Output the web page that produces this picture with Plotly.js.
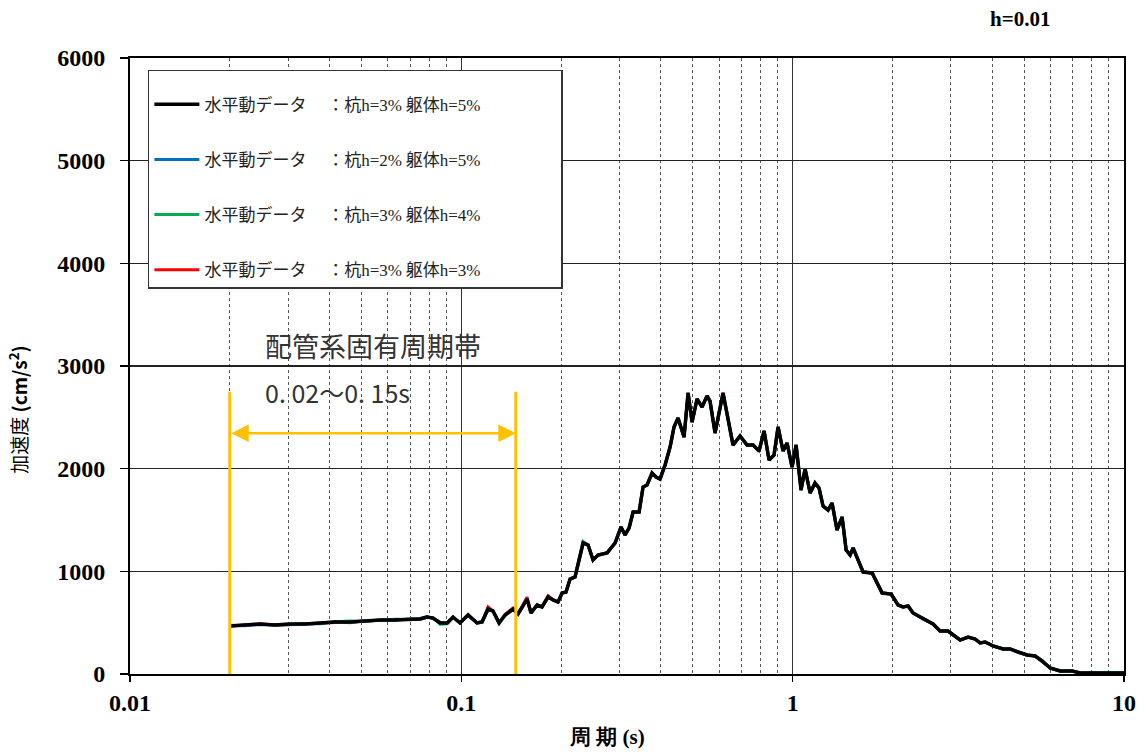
<!DOCTYPE html>
<html>
<head>
<meta charset="utf-8">
<script src="https://cdn.plot.ly/plotly-3.0.1.min.js"></script>
<style>html,body{margin:0;padding:0;background:#fff;}#chart{width:1147px;height:754px;}</style>
</head>
<body>
<div id="chart"></div>
<script>
// ---- data (period [s] vs acceleration [cm/s2]) ----
const periods = [0.020,0.0222,0.0247,0.0274,0.0304,0.0338,0.0375,0.0416,0.0461,0.0512,
0.0568,0.0631,0.0700,0.0751,0.0788,0.0822,0.0863,0.0906,0.0944,0.0991,
0.1048,0.1115,0.1155,0.1204,0.1246,0.1300,0.1355,0.1432,0.1483,0.1579,
0.1623,0.1693,0.1752,0.1827,0.1892,0.1958,0.2014,0.2070,0.2129,0.2204,
0.2331,0.2413,0.2498,0.2586,0.2754,0.2910,0.3034,0.3120,0.3208,0.3299,
0.3439,0.3536,0.3635,0.3764,0.3870,0.3979,0.4120,0.4266,0.4385,0.4509,
0.4701,0.4834,0.4970,0.5146,0.5328,0.5515,0.5631,0.5831,0.6164,0.6608,
0.6938,0.7284,0.7594,0.7917,0.8197,0.8487,0.8787,0.9034,0.9354,0.9618,
0.9959,1.024,1.060,1.090,1.129,1.168,1.201,1.235,1.279,1.315,
1.361,1.410,1.450,1.491,1.522,1.632,1.737,1.862,1.982,2.081,
2.154,2.230,2.309,2.475,2.653,2.786,2.944,3.202,3.384,3.553,
3.679,3.809,4.026,4.316,4.532,4.791,5.100,5.392,5.661,5.984,
6.414,6.972,7.371,8.474,10.0];

// 杭h=3% 躯体h=5% (black)
const accPile3Body5 = [468,477,487,477,487,487,497,506,506,516,
526,526,536,536,555,545,497,497,555,497,
575,497,506,633,614,497,575,633,584,730,
594,672,653,750,721,701,789,799,925,945,
1276,1256,1110,1159,1179,1276,1432,1354,1422,1578,
1578,1821,1841,1958,1919,1899,2036,2211,2406,2493,
2308,2737,2454,2679,2601,2708,2659,2347,2737,2230,
2318,2230,2230,2172,2367,2084,2133,2406,2172,2250,
2016,2230,1792,1997,1763,1860,1812,1636,1597,1665,
1403,1529,1208,1159,1227,993,984,789,779,672,
653,662,594,536,487,419,419,331,360,341,
302,312,273,244,244,214,185,175,127,58,
29,29,10,10,10];

// 杭h=2% 躯体h=5% (blue)
const accPile2Body5 = [476,470,482,484,480,493,490,511,500,522,
520,533,530,541,560,540,505,492,550,500,
570,500,510,628,610,500,570,628,586,728,
596,670,655,748,720,703,787,801,922,948,
1272,1258,1112,1157,1181,1272,1428,1356,1420,1575,
1580,1818,1843,1955,1921,1897,2033,2213,2403,2490,
2310,2733,2456,2676,2603,2705,2661,2350,2733,2232,
2316,2232,2228,2174,2364,2086,2131,2403,2174,2248,
2018,2228,1794,1995,1765,1858,1814,1634,1599,1663,
1405,1527,1210,1157,1229,991,986,787,781,670,
655,660,596,534,489,417,421,329,362,339,
304,310,275,242,246,212,187,173,129,56,
31,27,12,9,11];

// 杭h=3% 躯体h=4% (green)
const accPile3Body4 = [470,478,485,479,488,485,499,508,516,512,
527,524,538,534,553,547,486,490,552,499,
573,499,502,630,616,492,572,630,582,733,
592,674,651,752,719,703,787,801,923,947,
1290,1258,1108,1161,1177,1278,1430,1352,1424,1576,
1576,1823,1839,1960,1917,1901,2034,2209,2408,2491,
2306,2739,2452,2681,2599,2710,2657,2349,2735,2228,
2320,2228,2232,2170,2369,2082,2135,2404,2170,2252,
2014,2232,1790,1999,1761,1862,1810,1638,1595,1667,
1401,1531,1206,1161,1225,995,982,791,777,674,
651,664,592,538,485,421,417,333,358,343,
300,314,271,246,242,216,183,177,125,60,
27,31,9,11,9];

// 杭h=3% 躯体h=3% (red)
const accPile3Body3 = [466,476,489,476,486,489,496,505,507,515,
525,527,535,537,554,546,496,498,554,496,
578,496,508,652,612,499,578,642,586,748,
596,676,655,762,723,699,791,797,927,943,
1280,1254,1112,1157,1181,1274,1434,1352,1424,1580,
1576,1823,1839,1960,1917,1901,2038,2209,2408,2495,
2306,2741,2452,2681,2599,2710,2657,2345,2741,2228,
2320,2228,2232,2170,2369,2082,2135,2408,2170,2252,
2014,2232,1790,1999,1761,1862,1810,1638,1595,1667,
1401,1531,1206,1161,1225,995,982,791,777,674,
651,664,592,538,485,421,417,333,358,343,
300,314,271,246,242,216,183,177,125,60,
27,31,9,11,9];

const pileDamping = ['3%', '2%', '3%', '3%'];
const bodyDamping = ['5%', '5%', '4%', '3%'];
const seriesColors = ['#000000', '#0070C0', '#00B050', '#FF0000'];

const bandStart = 0.02, bandEnd = 0.15;      // 配管系固有周期帯
const bandEndDrawn = 0.146;                   // where the reference draws its right bound
const xTickVals = [0.01, 0.1, 1, 10];
const xTickText = ['0.01', '0.1', '1', '10'];
const minorVals = [];
[0.01, 0.1, 1].forEach(d => { for (let k = 2; k <= 9; k++) minorVals.push(+(d * k).toPrecision(3)); });

const serifSpan = s => '<span style="font-family:\'Liberation Serif\'">' + s + '</span>';
function legendName(i) {
  let s = '水平動データ\u3000\u00A0：杭' + serifSpan('h=' + pileDamping[i]) + ' 躯体' + serifSpan('h=' + bodyDamping[i]);
  if (i === 0) s += '\u3000\u3000\u3000\u3000\u00A0\u00A0';
  return s;
}

function mk(i, y, w) {
  return {
    x: periods, y: y, type: 'scatter', mode: 'lines',
    name: legendName(i), legendrank: i + 1, legendgroup: 'g' + i,
    line: {color: seriesColors[i], width: w}
  };
}
const traces = [
  mk(3, accPile3Body3, 3),
  mk(2, accPile3Body4, 3),
  mk(1, accPile2Body5, 3),
  mk(0, accPile3Body5, 3.5)
];

const jp = '"Noto Sans CJK JP", "Noto Sans", sans-serif';
const serif = '"Liberation Serif", "Times New Roman", serif';

const layout = {
  width: 1147, height: 754,
  margin: {l: 130, r: 23, t: 58, b: 80},
  paper_bgcolor: '#ffffff', plot_bgcolor: '#ffffff',
  font: {family: serif, color: '#000'},
  showlegend: true,
  legend: {
    x: 0.018, y: 0.981, xanchor: 'left', yanchor: 'top',
    bgcolor: '#ffffff', bordercolor: '#333333', borderwidth: 1.5,
    font: {family: jp, size: 17, color: '#222'},
    traceorder: 'grouped', tracegroupgap: 30,
    itemwidth: 45,
    title: {text: '\u00A0', font: {size: 12}}
  },
  xaxis: {
    type: 'log', range: [-2, 1],
    tickmode: 'array', tickvals: xTickVals, ticktext: xTickText,
    ticks: 'outside', ticklen: 6, tickwidth: 1.5, tickcolor: '#000',
    showgrid: true, gridcolor: '#333', gridwidth: 1,
    minor: {tickmode: 'array', tickvals: minorVals, showgrid: true, gridcolor: '#555', griddash: 'dot', gridwidth: 1, ticks: ''},
    showline: true, linecolor: '#000', linewidth: 2, mirror: true,
    zeroline: false,
    tickfont: {family: serif, size: 24, color: '#000', weight: 'bold'},
    ticklabelstandoff: 0
  },
  yaxis: {
    range: [0, 6000], dtick: 1000, tick0: 0,
    ticks: 'outside', ticklen: 8, tickwidth: 1.5, tickcolor: '#000',
    showgrid: true, gridcolor: '#222', gridwidth: 1.2,
    showline: true, linecolor: '#000', linewidth: 2, mirror: true,
    zeroline: false,
    tickfont: {family: serif, size: 24, color: '#000', weight: 'bold'},
    ticklabelstandoff: 10
  },
  shapes: [
    {type: 'line', xref: 'x', yref: 'y', x0: bandStart, x1: bandStart, y0: 0, y1: 2750, line: {color: '#FFC000', width: 3}},
    {type: 'line', xref: 'x', yref: 'y', x0: bandEndDrawn, x1: bandEndDrawn, y0: 0, y1: 2750, line: {color: '#FFC000', width: 3}}
  ],
  annotations: [
    {xref: 'x', yref: 'y', axref: 'x', ayref: 'y',
     x: Math.log10(bandEndDrawn), y: 2345, ax: Math.log10(bandStart), ay: 2345,
     text: '', showarrow: true, arrowside: 'end+start', arrowhead: 2, startarrowhead: 2,
     arrowsize: 1.4, startarrowsize: 1.4, arrowwidth: 2.5, arrowcolor: '#FFC000'},
    {xref: 'x', yref: 'y', x: -2 + (263 - 130) / 331.3, y: 3200, xanchor: 'left', yanchor: 'middle',
     text: '配管系固有周期帯', showarrow: false, font: {family: jp, size: 27, color: '#333'}},
    {xref: 'x', yref: 'y', x: -2 + (263 - 130) / 331.3, y: 2750, xanchor: 'left', yanchor: 'middle',
     text: '0. 02～0. 15s', showarrow: false, font: {family: jp, size: 25, color: '#333'}},
    {xref: 'paper', yref: 'paper', x: 0.895, y: 1.064, xanchor: 'center', yanchor: 'middle',
     text: '<b>h=0.01</b>', showarrow: false, font: {family: serif, size: 21, color: '#000'}},
    {xref: 'paper', yref: 'paper', x: 0.48, y: -0.103, xanchor: 'center', yanchor: 'middle',
     text: '<b>周 期 (s)</b>', showarrow: false, font: {family: serif, size: 21, color: '#000'}},
    {xref: 'paper', yref: 'paper', x: -0.113, y: 0.43, xanchor: 'center', yanchor: 'middle', textangle: -90,
     text: '加速度 <b>(cm/s<sup>2</sup>)</b>', showarrow: false, font: {family: jp, size: 19, color: '#000'}}
  ]
};

Plotly.newPlot('chart', traces, layout, {displayModeBar: false, staticPlot: true});
</script>
</body>
</html>
